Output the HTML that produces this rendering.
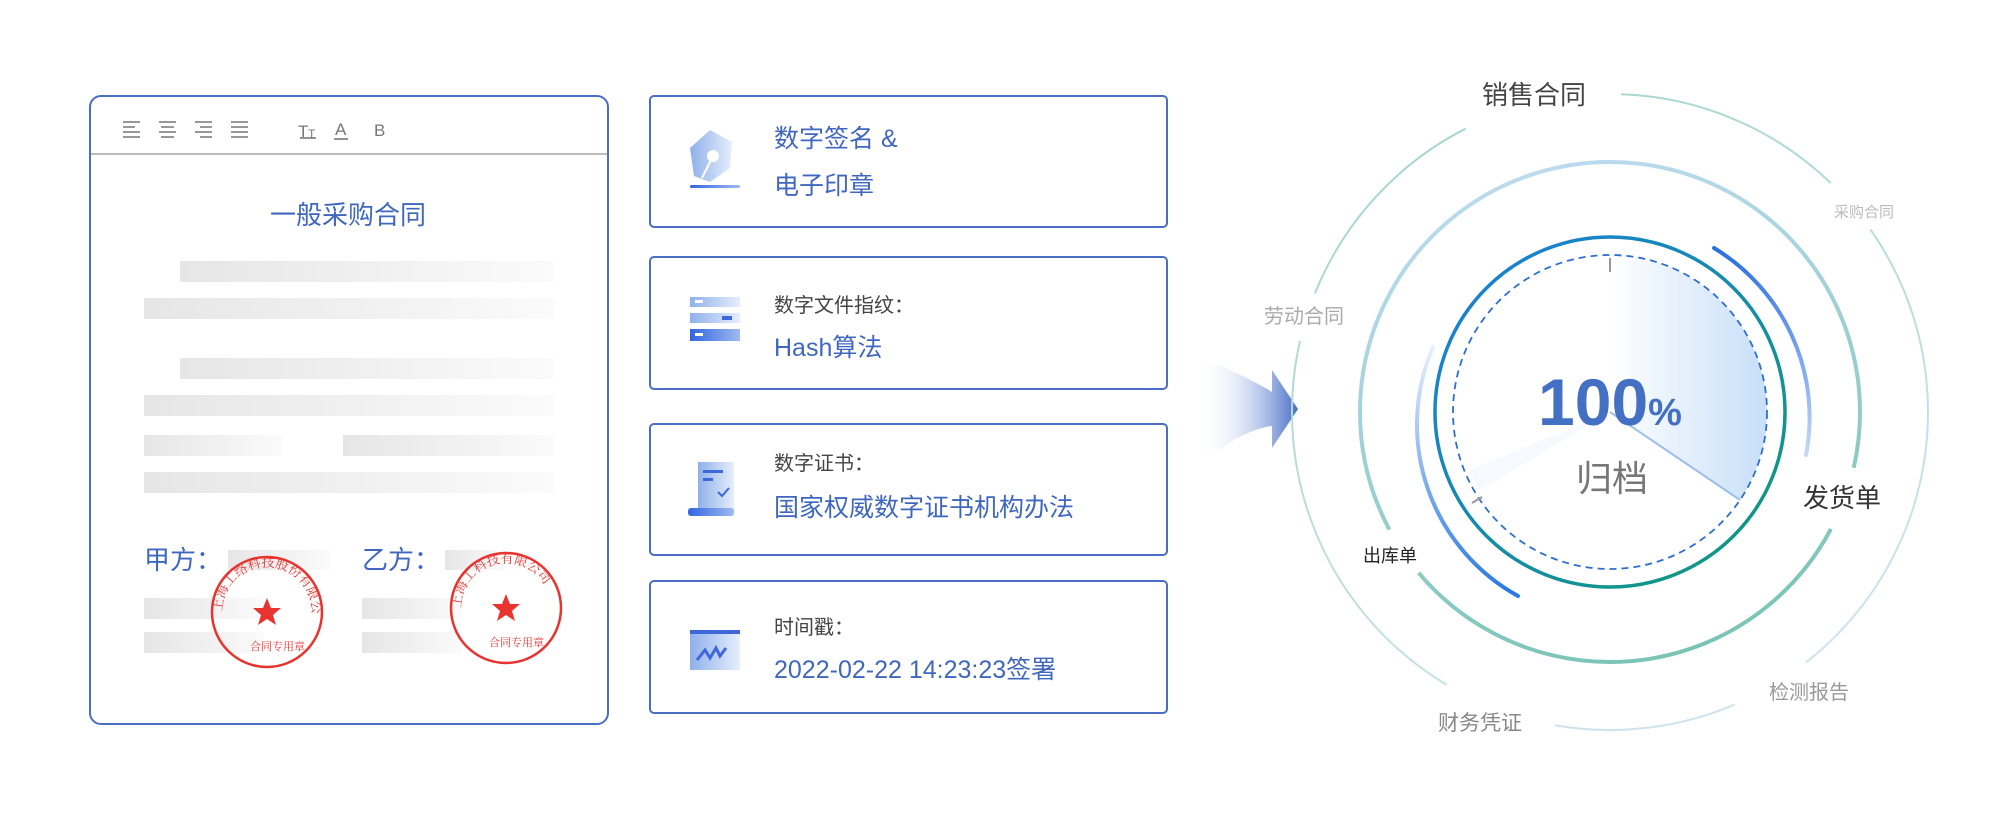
<!DOCTYPE html>
<html><head><meta charset="utf-8">
<style>
*{margin:0;padding:0;box-sizing:border-box}
body{width:2000px;height:829px;background:#fff;position:relative;overflow:hidden;font-family:"Liberation Sans","Noto Sans CJK SC",sans-serif}
.abs{position:absolute}
.card{position:absolute;border:2px solid #4a6ec3;border-radius:5px;background:#fff}
.bar{position:absolute;height:21px;background:linear-gradient(90deg,#e6e6e6,#f2f2f2 60%,#fbfbfb)}
.t{position:absolute;white-space:nowrap;line-height:1}
.blue{color:#3f67bf}
.dark{color:#444}
</style></head><body>

<div class="card" style="left:89px;top:95px;width:520px;height:630px;border-radius:12px"></div>
<div class="abs" style="left:91px;top:153px;width:516px;height:2px;background:#bcbcbc"></div>
<svg class="abs" style="left:120px;top:118px" width="300" height="24">
 <g stroke="#777" stroke-width="1.6">
  <path d="M3 4h17M3 9h12M3 14h17M3 19h17"/>
  <path d="M39 4h17M41 9h13M39 14h17M41 19h13"/>
  <path d="M75 4h17M80 9h12M75 14h17M80 19h12"/>
  <path d="M111 4h17M111 9h17M111 14h17M111 19h17"/>
  <path d="M180 20h16"/>
 </g>
 <text x="178" y="19" font-size="17" fill="#777" font-family="Liberation Sans">T</text>
 <text x="188" y="20" font-size="12" fill="#777" font-family="Liberation Sans">T</text>
 <text x="215" y="17" font-size="17" fill="#777" font-family="Liberation Sans">A</text>
 <path d="M214 21h14" stroke="#777" stroke-width="1.6"/>
 <text x="254" y="18" font-size="17" fill="#777" font-family="Liberation Sans">B</text>
</svg>
<div class="t blue" style="left:270px;top:202px;font-size:26px">一般采购合同</div>
<div class="bar" style="left:180px;top:261px;width:375px"></div>
<div class="bar" style="left:144px;top:298px;width:411px"></div>
<div class="bar" style="left:180px;top:358px;width:375px"></div>
<div class="bar" style="left:144px;top:395px;width:411px"></div>
<div class="bar" style="left:144px;top:435px;width:139px"></div>
<div class="bar" style="left:343px;top:435px;width:212px"></div>
<div class="bar" style="left:144px;top:472px;width:411px"></div>
<div class="t blue" style="left:144px;top:547px;font-size:26px">甲方：</div>
<div class="t blue" style="left:362px;top:547px;font-size:26px">乙方：</div>
<div class="bar" style="left:228px;top:550px;width:102px;height:20px"></div>
<div class="bar" style="left:445px;top:550px;width:60px;height:20px"></div>
<div class="bar" style="left:144px;top:598px;width:120px"></div>
<div class="bar" style="left:144px;top:632px;width:120px"></div>
<div class="bar" style="left:362px;top:598px;width:100px"></div>
<div class="bar" style="left:362px;top:632px;width:100px"></div>
<svg class="abs" style="left:0;top:0" width="620" height="729">
 <defs>
  <path id="sa" d="M222 612 a45 45 0 1 1 90 0"/>
  <path id="sb" d="M461 608 a45 45 0 1 1 90 0"/>
 </defs>
 <g fill="none" stroke="#e8332f" stroke-width="2.5">
  <circle cx="267" cy="612" r="55"/><circle cx="506" cy="608" r="55"/>
 </g>
 <g fill="#e8332f" font-family="Liberation Serif,Noto Serif CJK SC,serif">
  <text font-size="13"><textPath href="#sa">上海工络科技股份有限公司</textPath></text>
  <text font-size="13"><textPath href="#sb">上海工科技有限公司</textPath></text>
  <polygon transform="translate(267,612)" points="0,-14 4,-4 14,-4 6,3 9,13 0,7 -9,13 -6,3 -14,-4 -4,-4"/>
  <polygon transform="translate(506,608)" points="0,-14 4,-4 14,-4 6,3 9,13 0,7 -9,13 -6,3 -14,-4 -4,-4"/>
  <text x="250" y="650" font-size="11">合同专用章</text>
  <text x="489" y="646" font-size="11">合同专用章</text>
 </g>
</svg>

<div class="card" style="left:649px;top:95px;width:519px;height:133px"></div>
<div class="card" style="left:649px;top:256px;width:519px;height:134px"></div>
<div class="card" style="left:649px;top:423px;width:519px;height:133px"></div>
<div class="card" style="left:649px;top:580px;width:519px;height:134px"></div>

<svg class="abs" style="left:680px;top:120px" width="80" height="580">
 <defs>
  <linearGradient id="ig" x1="0" y1="0" x2="1" y2="0"><stop offset="0" stop-color="#8fb0ea"/><stop offset="1" stop-color="#e6eefc"/></linearGradient>
  <linearGradient id="ig2" x1="0" y1="0" x2="1" y2="0"><stop offset="0" stop-color="#3365e0"/><stop offset="1" stop-color="#9fbaf0"/></linearGradient>
 </defs>
 <polygon points="30,10 52,22 50,48 30,62 14,56 10,28" fill="url(#ig)"/>
 <circle cx="33" cy="36" r="6" fill="#fff"/>
 <path d="M31 40 L22 58" stroke="#fff" stroke-width="2"/>
 <rect x="10" y="65" width="50" height="3" rx="1.5" fill="url(#ig2)"/>
 <rect x="10" y="177" width="50" height="10" fill="url(#ig)"/>
 <rect x="10" y="193" width="50" height="10" fill="url(#ig)"/>
 <rect x="10" y="209" width="50" height="12" fill="url(#ig2)"/>
 <rect x="15" y="180" width="8" height="3" fill="#fff"/>
 <rect x="42" y="196" width="10" height="4" fill="#3f67d9"/>
 <rect x="15" y="213" width="8" height="3" fill="#fff"/>
 <rect x="18" y="342" width="36" height="52" fill="url(#ig)"/>
 <rect x="23" y="350" width="20" height="3" fill="#3f67d9"/>
 <rect x="23" y="358" width="10" height="3" fill="#3f67d9"/>
 <path d="M38 372 l4 4 l7 -8" stroke="#3f67d9" stroke-width="2" fill="none"/>
 <rect x="8" y="388" width="46" height="8" rx="3" fill="url(#ig2)"/>
 <rect x="10" y="510" width="50" height="4" fill="#3f67d9"/>
 <rect x="10" y="514" width="50" height="36" fill="url(#ig)"/>
 <path d="M17 540 l8 -10 l5 8 l6 -10 l4 8 l6 -8" stroke="#3f67d9" stroke-width="3" fill="none"/>
</svg>

<div class="t blue" style="left:774px;top:127px;font-size:25px">数字签名 &amp;</div>
<div class="t blue" style="left:774px;top:174px;font-size:25px">电子印章</div>
<div class="t dark" style="left:774px;top:296px;font-size:20px">数字文件指纹：</div>
<div class="t blue" style="left:774px;top:336px;font-size:25px">Hash算法</div>
<div class="t dark" style="left:774px;top:454px;font-size:20px">数字证书：</div>
<div class="t blue" style="left:774px;top:496px;font-size:25px">国家权威数字证书机构办法</div>
<div class="t dark" style="left:774px;top:618px;font-size:20px">时间戳：</div>
<div class="t blue" style="left:774px;top:658px;font-size:25px">2022-02-22 14:23:23签署</div>

<svg class="abs" style="left:0;top:0" width="2000" height="829">
 <defs>
  <linearGradient id="ag" x1="1200" y1="0" x2="1300" y2="0" gradientUnits="userSpaceOnUse"><stop offset="0" stop-color="#fff" stop-opacity="0"/><stop offset="1" stop-color="#3f67c4"/></linearGradient>
  <linearGradient id="r1" x1="1300" y1="100" x2="1930" y2="730" gradientUnits="userSpaceOnUse"><stop offset="0" stop-color="#d6e6f6"/><stop offset="1" stop-color="#9fd4c8"/></linearGradient>
  <linearGradient id="r2" x1="1380" y1="180" x2="1850" y2="650" gradientUnits="userSpaceOnUse"><stop offset="0" stop-color="#c5def6"/><stop offset="1" stop-color="#6fc0ac"/></linearGradient>
  <linearGradient id="r3" x1="1450" y1="250" x2="1780" y2="580" gradientUnits="userSpaceOnUse"><stop offset="0" stop-color="#1a7fd8"/><stop offset="1" stop-color="#0f9a78"/></linearGradient>
  <linearGradient id="wg" x1="1610" y1="0" x2="1770" y2="0" gradientUnits="userSpaceOnUse"><stop offset="0" stop-color="#fff"/><stop offset="1" stop-color="#c6def8"/></linearGradient>
  <linearGradient id="bg" x1="0" y1="250" x2="0" y2="470" gradientUnits="userSpaceOnUse"><stop offset="0" stop-color="#2c6fe0"/><stop offset="1" stop-color="#cfe0fb"/></linearGradient>
  <linearGradient id="bg2" x1="0" y1="350" x2="0" y2="590" gradientUnits="userSpaceOnUse"><stop offset="0" stop-color="#e6f0fc"/><stop offset="1" stop-color="#2c7ae0"/></linearGradient>
 </defs>
 <path d="M1195 355 Q1250 378 1272 392 L1272 370 L1298 409 L1272 448 L1272 426 Q1240 430 1195 468 Z" fill="url(#ag)"/>
 <circle cx="1610" cy="412" r="318" pathLength="360" fill="none" stroke="url(#r1)" stroke-width="2"
  stroke-dasharray="41 29 42 11 87 15 33 21 72 9" transform="rotate(202 1610 412)"/>
 <circle cx="1610" cy="412" r="250" pathLength="360" fill="none" stroke="url(#r2)" stroke-width="4"
  stroke-dasharray="112 12 221 15" transform="rotate(28 1610 412)"/>
 <path d="M1610 412 L1610 255 A157 157 0 0 1 1740 500 Z" fill="url(#wg)"/>
 <path d="M1610 412 L1740 500" stroke="#9cc0ec" stroke-width="2"/>
 <path d="M1610 412 L1480 490 A157 157 0 0 1 1470 470 Z" fill="#f2f7fd" opacity="0.7"/>
 <circle cx="1610" cy="412" r="175" fill="none" stroke="url(#r3)" stroke-width="3.5"/>
 <circle cx="1610" cy="412" r="157" fill="none" stroke="#2d6fd0" stroke-width="1.8" stroke-dasharray="7 5"/>
 <path d="M1610 258 v14" stroke="#999" stroke-width="2"/>
 <path d="M1482 497 l-10 6" stroke="#999" stroke-width="2"/>
 <path d="M1714 248 A198 198 0 0 1 1806 455" fill="none" stroke="url(#bg)" stroke-width="4" stroke-linecap="round"/>
 <path d="M1433 347 A196 196 0 0 0 1518 596" fill="none" stroke="url(#bg2)" stroke-width="4" stroke-linecap="round"/>
 <g font-family="Liberation Sans,Noto Sans CJK SC,sans-serif" text-anchor="middle">
  <text x="1610" y="425" font-size="66" font-weight="bold" fill="#4470c4">100<tspan font-size="38">%</tspan></text>
  <text x="1612" y="491" font-size="36" fill="#777">归档</text>
  <text x="1534" y="104" font-size="26" fill="#444">销售合同</text>
  <text x="1864" y="217" font-size="15" fill="#bbb">采购合同</text>
  <text x="1304" y="323" font-size="20" fill="#aaa">劳动合同</text>
  <text x="1842" y="507" font-size="26" fill="#333">发货单</text>
  <text x="1390" y="562" font-size="18" fill="#222">出库单</text>
  <text x="1809" y="699" font-size="20" fill="#999">检测报告</text>
  <text x="1480" y="730" font-size="21" fill="#888">财务凭证</text>
 </g>
</svg>
</body></html>
